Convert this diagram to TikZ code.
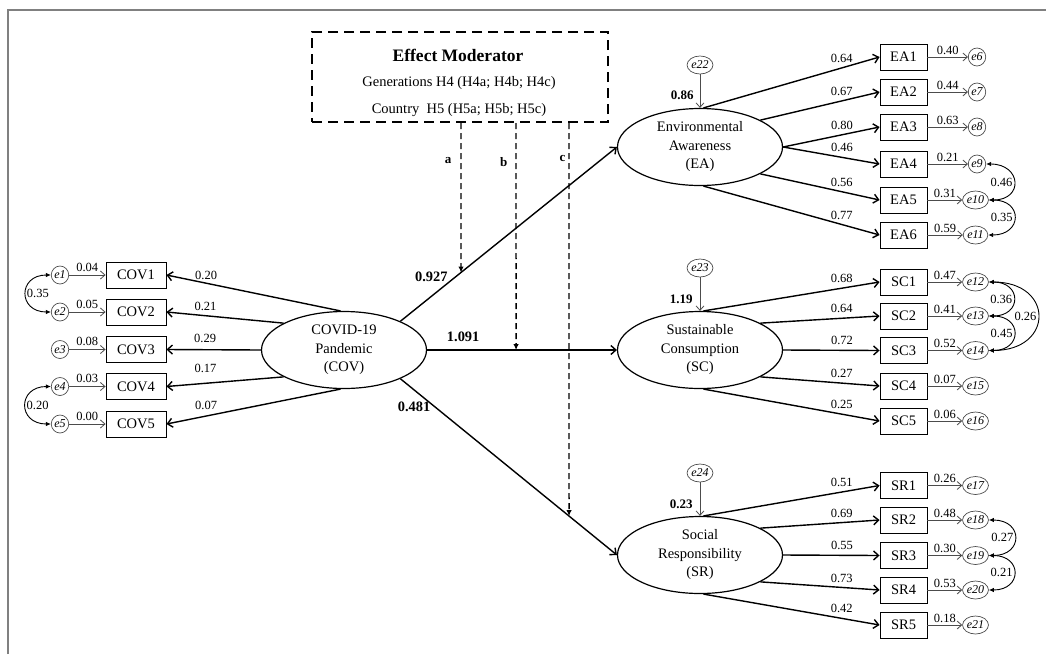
\documentclass[tikz,border=0pt]{standalone}
\usepackage{fontspec}
\setmainfont{Liberation Serif}
\usetikzlibrary{arrows.meta,shapes.geometric,calc}
\begin{document}
\begin{tikzpicture}[x=1pt,y=-1pt,
  lat/.style={ellipse,draw,line width=1.2pt,minimum width=165pt,minimum height=77pt,align=center,inner sep=0pt,font=\fontsize{14.5}{18.5}\selectfont},
  obs/.style={rectangle,draw,line width=0.9pt,minimum width=47pt,minimum height=26pt,inner sep=0pt,font=\fontsize{14.5}{17}\selectfont},
  err/.style={ellipse,draw=black!70,line width=0.7pt,inner sep=0.5pt,minimum width=15pt,minimum height=18pt,font=\fontsize{12}{14}\selectfont\itshape},
  load/.style={line width=1.4pt,-{Straight Barb[length=5pt,width=9pt]}},
  earr/.style={draw=black!70,line width=0.8pt,-{Straight Barb[length=4.5pt,width=8pt]}},
  cov/.style={line width=0.9pt,{Latex[length=5pt,width=4.5pt]}-{Latex[length=5pt,width=4.5pt]}},
  lab/.style={font=\fontsize{12.5}{14}\selectfont,inner sep=1pt},
  blab/.style={font=\fontsize{13}{15}\selectfont\bfseries,inner sep=1pt},
  plab/.style={font=\fontsize{14.4}{16}\selectfont\bfseries,inner sep=1pt},
  modbox/.style={draw,line width=2pt,dash pattern=on 10pt off 6pt,minimum width=296pt,minimum height=90pt},
  modarr/.style={line width=1.4pt,dash pattern=on 6pt off 4pt,-{Latex[length=6pt,width=5.5pt]}}
]
\useasboundingbox (0,0) rectangle (1046,654);
\draw[gray,line width=1.5pt] (8,654) -- (8,10) -- (1046,10);

% latent variables
\node[lat] (COV) at (344,350) {COVID-19\\Pandemic\\(COV)};
\node[lat] (EA) at (700,147) {Environmental\\Awareness\\(EA)};
\node[lat] (SC) at (700,350) {Sustainable\\Consumption\\(SC)};
\node[lat] (SR) at (700,555) {Social\\Responsibility\\(SR)};

% moderator
\node[modbox] (mod) at (460,77) {};
\node[font=\fontsize{17.5}{20}\selectfont\bfseries] (modT) at (458,55) {Effect Moderator};
\node[font=\fontsize{14.5}{17}\selectfont] (modG) at (459,83) {Generations H4 (H4a; H4b; H4c)};
\node[font=\fontsize{14.5}{17}\selectfont] (modC) at (459,110) {Country~~H5 (H5a; H5b; H5c)};

% COV indicators
\foreach \i/\y in {1/275,2/312,3/349.5,4/386.5,5/424}{
  \node[obs,minimum width=60pt] (COV\i) at (136,\y) {COV\i};
  \node[err] (e\i) at (60,\y) {e\i};
}
\draw[earr] (e1) -- node[lab,above=2pt]{0.04} (COV1);
\draw[earr] (e2) -- node[lab,above=2pt]{0.05} (COV2);
\draw[earr] (e3) -- node[lab,above=2pt]{0.08} (COV3);
\draw[earr] (e4) -- node[lab,above=2pt]{0.03} (COV4);
\draw[earr] (e5) -- node[lab,above=2pt]{0.00} (COV5);
\draw[cov] (e1.west) to[out=180,in=180,looseness=2.3] node[lab,right,inner sep=0.5pt]{0.35} (e2.west);
\draw[cov] (e4.west) to[out=180,in=180,looseness=2.3] node[lab,right,inner sep=0.5pt]{0.20} (e5.west);

\draw[load] (COV.95) -- node[lab,pos=0.772,above=2pt]{0.20} (COV1.east);
\draw[load] (COV.156) -- node[lab,pos=0.667,above=3pt]{0.21} (COV2.east);
\draw[load] (COV.180) -- node[lab,pos=0.59,above=5pt]{0.29} (COV3.east);
\draw[load] (COV.204) -- node[lab,pos=0.667,above=9pt]{0.17} (COV4.east);
\draw[load] (COV.265) -- node[lab,pos=0.772,above=5pt]{0.07} (COV5.east);

% EA indicators
\foreach \i/\y/\e/\ex in {1/57/6/977,2/92/7/977,3/127/8/977,4/164/9/977,5/200/10/975.5,6/235/11/975.5}{
  \node[obs] (EA\i) at (903.5,\y) {EA\i};
  \node[err] (e\e) at (\ex,\y) {e\e};
}
\foreach \i/\y/\e in {1/282/12,2/316/13,3/350.5/14,4/386/15,5/421/16}{
  \node[obs] (SC\i) at (903.5,\y) {SC\i};
  \node[err] (e\e) at (975.5,\y) {e\e};
}
\foreach \i/\y/\e in {1/485.5/17,2/520/18,3/555.5/19,4/590/20,5/625/21}{
  \node[obs] (SR\i) at (903.5,\y) {SR\i};
  \node[err] (e\e) at (975.5,\y) {e\e};
}
\node[err] (e22) at (700,65) {e22};
\node[err] (e23) at (700,268) {e23};
\node[err] (e24) at (700,473) {e24};

\draw[earr] (e22) -- node[blab,pos=0.62,left=5pt]{0.86} (EA.north);
\draw[earr] (e23) -- node[blab,pos=0.65,left=6pt]{1.19} (SC.north);
\draw[earr] (e24) -- node[blab,pos=0.65,left=6pt]{0.23} (SR.north);

% EA loadings
\draw[load] (EA.85) -- node[lab,pos=0.785,above=3.5pt]{0.64} (EA1.west);
\draw[load] (EA.24) -- node[lab,pos=0.683,above=3.5pt]{0.67} (EA2.west);
\draw[load] (EA.0) -- node[lab,pos=0.61,above=3.5pt]{0.80} (EA3.west);
\draw[load] (EA.0) -- node[lab,pos=0.61,above=3.5pt]{0.46} (EA4.west);
\draw[load] (EA.-24) -- node[lab,pos=0.683,above=3.5pt]{0.56} (EA5.west);
\draw[load] (EA.-85) -- node[lab,pos=0.785,above=3.5pt]{0.77} (EA6.west);
\draw[earr] (EA1) -- node[lab,above=1pt]{0.40} (e6);
\draw[earr] (EA2) -- node[lab,above=1pt]{0.44} (e7);
\draw[earr] (EA3) -- node[lab,above=1pt]{0.63} (e8);
\draw[earr] (EA4) -- node[lab,above=1pt]{0.21} (e9);
\draw[earr] (EA5) -- node[lab,above=1pt]{0.31} (e10);
\draw[earr] (EA6) -- node[lab,above=1pt]{0.59} (e11);
\draw[cov] (e9.east) to[out=0,in=0,looseness=2.5] node[lab,left]{0.46} (e10.east);
\draw[cov] (e10.east) to[out=0,in=0,looseness=2.5] node[lab,left]{0.35} (e11.east);

% SC loadings
\draw[load] (SC.85) -- node[lab,pos=0.785,above=3.5pt]{0.68} (SC1.west);
\draw[load] (SC.24) -- node[lab,pos=0.683,above=3.5pt]{0.64} (SC2.west);
\draw[load] (SC.0) -- node[lab,pos=0.61,above=3.5pt]{0.72} (SC3.west);
\draw[load] (SC.-24) -- node[lab,pos=0.683,above=3.5pt]{0.27} (SC4.west);
\draw[load] (SC.-85) -- node[lab,pos=0.785,above=3.5pt]{0.25} (SC5.west);
\draw[earr] (SC1) -- node[lab,above=1pt]{0.47} (e12);
\draw[earr] (SC2) -- node[lab,above=1pt]{0.41} (e13);
\draw[earr] (SC3) -- node[lab,above=1pt]{0.52} (e14);
\draw[earr] (SC4) -- node[lab,above=1pt]{0.07} (e15);
\draw[earr] (SC5) -- node[lab,above=1pt]{0.06} (e16);
\draw[cov] (e12.east) to[out=0,in=0,looseness=2.5] node[lab,left]{0.36} (e13.east);
\draw[cov] (e13.east) to[out=0,in=0,looseness=2.5] node[lab,left]{0.45} (e14.east);
\draw[cov] (e12.east) to[out=0,in=0,looseness=2.45] node[lab,left]{0.26} (e14.east);

% SR loadings
\draw[load] (SR.85) -- node[lab,pos=0.785,above=3.5pt]{0.51} (SR1.west);
\draw[load] (SR.24) -- node[lab,pos=0.683,above=3.5pt]{0.69} (SR2.west);
\draw[load] (SR.0) -- node[lab,pos=0.61,above=3.5pt]{0.55} (SR3.west);
\draw[load] (SR.-24) -- node[lab,pos=0.683,above=3.5pt]{0.73} (SR4.west);
\draw[load] (SR.-85) -- node[lab,pos=0.785,above=3.5pt]{0.42} (SR5.west);
\draw[earr] (SR1) -- node[lab,above=1pt]{0.26} (e17);
\draw[earr] (SR2) -- node[lab,above=1pt]{0.48} (e18);
\draw[earr] (SR3) -- node[lab,above=1pt]{0.30} (e19);
\draw[earr] (SR4) -- node[lab,above=1pt]{0.53} (e20);
\draw[earr] (SR5) -- node[lab,above=1pt]{0.18} (e21);
\draw[cov] (e18.east) to[out=0,in=0,looseness=2.5] node[lab,left]{0.27} (e19.east);
\draw[cov] (e19.east) to[out=0,in=0,looseness=2.5] node[lab,left]{0.21} (e20.east);

% structural paths
\draw[load] (COV.27) -- node[plab,pos=0.253,left=6pt]{0.927} (EA.west);
\draw[load] (COV.east) -- node[plab,pos=0.19,above=7pt]{1.091} (SC.west);
\draw[load] (COV.-27) -- node[plab,pos=0.16,left=3pt]{0.481} (SR.west);

% moderator arrows
\coordinate (xa) at (461,0); \coordinate (ya) at (461,600);
\coordinate (xb) at (516,0); \coordinate (yb) at (516,600);
\coordinate (xc) at (569,0); \coordinate (yc) at (569,600);
\draw[modarr] (mod.south -| xa) -- node[blab,pos=0.25,left=8pt]{a} (intersection of COV.27--EA.west and xa--ya);
\draw[modarr] (mod.south -| xb) -- node[blab,pos=0.17,left=7pt]{b} (intersection of COV.east--SC.west and xb--yb);
\draw[modarr] (mod.south -| xc) -- node[blab,pos=0.09,left=2pt]{c} (intersection of COV.-27--SR.west and xc--yc);
\end{tikzpicture}
\end{document}
